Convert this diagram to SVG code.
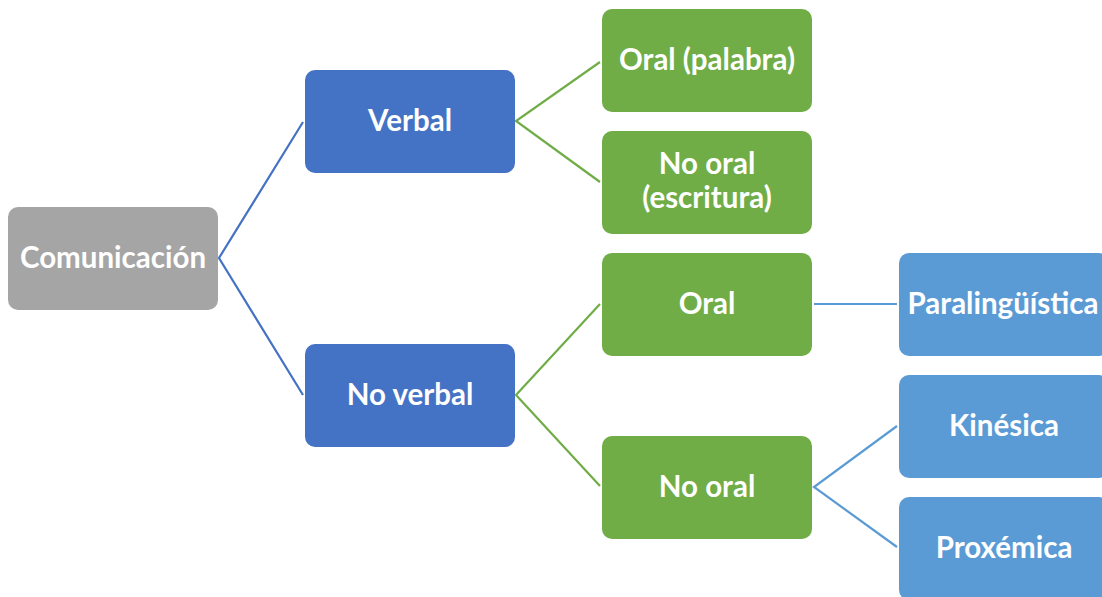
<svg xmlns="http://www.w3.org/2000/svg" width="1102" height="597" viewBox="0 0 1102 597">
<style>
.box{stroke:none}
.t{font-family:Lato,"Open Sans","Liberation Sans",sans-serif;font-weight:bold;font-size:29.5px;fill:#fff;text-anchor:middle;dominant-baseline:central}
.c{fill:none;stroke-width:2.2}
</style>
<rect width="1102" height="597" fill="#fff"/>
<g id="connectors">
<polyline class="c" stroke="#4472C4" points="303,122 219,258 303,395"/>
<polyline class="c" stroke="#70AD47" points="600,62 516,121 600,182"/>
<polyline class="c" stroke="#70AD47" points="600,304 516,395 600,486"/>
<line class="c" stroke="#5B9BD5" x1="814" y1="304" x2="897" y2="304"/>
<polyline class="c" stroke="#5B9BD5" points="897,426 814,487 897,547"/>
</g>
<g id="n-comunicacion"><rect class="box" x="8" y="207" width="210" height="103" rx="10" fill="#A5A5A5"/><text class="t" x="113" y="256">Comunicación</text></g>
<g id="n-verbal"><rect class="box" x="305" y="70" width="210" height="103" rx="10" fill="#4472C4"/><text class="t" x="410" y="119">Verbal</text></g>
<g id="n-noverbal"><rect class="box" x="305" y="344" width="210" height="103" rx="10" fill="#4472C4"/><text class="t" x="410" y="393">No verbal</text></g>
<g id="n-oralpalabra"><rect class="box" x="602" y="9" width="210" height="103" rx="10" fill="#70AD47"/><text class="t" x="707" y="58">Oral (palabra)</text></g>
<g id="n-nooralescritura"><rect class="box" x="602" y="131" width="210" height="103" rx="10" fill="#70AD47"/><text class="t" x="707" y="162">No oral</text><text class="t" x="707" y="196">(escritura)</text></g>
<g id="n-oral"><rect class="box" x="602" y="253" width="210" height="103" rx="10" fill="#70AD47"/><text class="t" x="707" y="302">Oral</text></g>
<g id="n-nooral"><rect class="box" x="602" y="436" width="210" height="103" rx="10" fill="#70AD47"/><text class="t" x="707" y="485">No oral</text></g>
<g id="n-paralinguistica"><rect class="box" x="899" y="253" width="210" height="103" rx="10" fill="#5B9BD5"/><text class="t" x="1003" y="302">Paralingüística</text></g>
<g id="n-kinesica"><rect class="box" x="899" y="375" width="210" height="103" rx="10" fill="#5B9BD5"/><text class="t" x="1004" y="424">Kinésica</text></g>
<g id="n-proxemica"><rect class="box" x="899" y="497" width="210" height="103" rx="10" fill="#5B9BD5"/><text class="t" x="1004" y="546">Proxémica</text></g>
</svg>
